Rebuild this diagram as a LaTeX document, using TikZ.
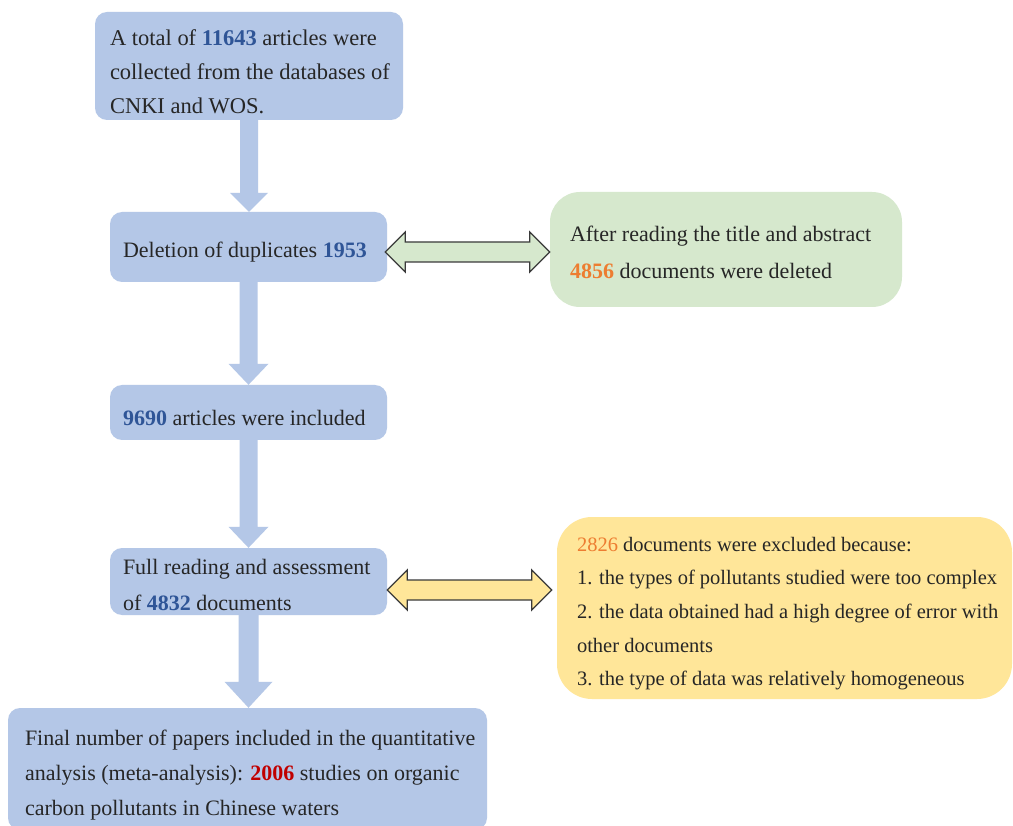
\documentclass[tikz,border=0pt]{standalone}
\usepackage{fontspec}
\setmainfont{Liberation Serif}
\usetikzlibrary{calc}
\definecolor{boxblue}{HTML}{B4C7E7}
\definecolor{boxgreen}{HTML}{D6E8CD}
\definecolor{boxyellow}{HTML}{FFE699}
\definecolor{numblue}{HTML}{2F5597}
\definecolor{numorange}{HTML}{ED7D31}
\definecolor{numred}{HTML}{C00000}
\definecolor{txt}{HTML}{262626}
\definecolor{arrowline}{HTML}{3A3A3A}
\newcommand{\nblue}[1]{\textbf{\textcolor{numblue}{#1}}}
\newcommand{\vblockarrow}[5]{%
  \fill[boxblue] let \p1=(#1.south), \p2=(#2.north) in
    (\x1-#3,\y1) -- (\x1-#3,\y2+#5) -- (\x1-#4,\y2+#5) -- (\x1,\y2)
    -- (\x1+#4,\y2+#5) -- (\x1+#3,\y2+#5) -- (\x1+#3,\y1) -- cycle;}
\newcommand{\hdblarrow}[6]{%
  \filldraw[fill=#3, draw=arrowline, line width=1.3pt, line join=miter]
    let \p1=($(#1.east)+(#4,#6)$), \p2=($(#2.west)+(#5,#6)$) in
    (\x1,\y1) -- (\x1+20pt,\y1+20pt) -- (\x1+20pt,\y1+10pt) -- (\x2-20pt,\y1+10pt)
    -- (\x2-20pt,\y1+20pt) -- (\x2,\y1) -- (\x2-20pt,\y1-20pt) -- (\x2-20pt,\y1-10pt)
    -- (\x1+20pt,\y1-10pt) -- (\x1+20pt,\y1-20pt) -- cycle;}
\begin{document}
\begin{tikzpicture}[x=1pt,y=-1pt,
  bluebox/.style={draw=none, fill=boxblue, rounded corners=12pt, inner sep=0pt},
  greenbox/.style={draw=none, fill=boxgreen, rounded corners=30pt, inner sep=0pt},
  yellowbox/.style={draw=none, fill=boxyellow, rounded corners=35pt, inner sep=0pt},
  txtnode/.style={anchor=west, align=left, inner sep=0pt, text=txt}]
\useasboundingbox (0,0) rectangle (1013,826);
\clip (0,0) rectangle (1013,826);
\fill[white] (0,0) rectangle (1013,826);

% boxes
\node[bluebox, minimum width=308pt, minimum height=108pt] (b1) at (249,66) {};
\node[bluebox, minimum width=277pt, minimum height=70pt] (b2) at (248.5,247) {};
\node[bluebox, minimum width=277pt, minimum height=55pt] (b3) at (248.5,412.5) {};
\node[bluebox, minimum width=277pt, minimum height=67pt] (b4) at (248.5,581.5) {};
\node[bluebox, minimum width=479pt, minimum height=122pt] (b5) at (247.5,769) {};
\node[greenbox, minimum width=352pt, minimum height=115pt] (g) at (726,249.5) {};
\node[yellowbox, minimum width=455pt, minimum height=182pt] (y) at (784.5,608) {};

% texts
\node[txtnode, font=\fontsize{22.5}{34}\selectfont] (t1) at ($(b1.west)+(15,5.5)$)
  {A total of \nblue{11643} articles were\\collected from the databases of\\CNKI and WOS.};
\node[txtnode, font=\fontsize{22}{34}\selectfont] (t2) at ($(b2.west)+(13,5)$)
  {Deletion of duplicates \nblue{1953}};
\node[txtnode, font=\fontsize{22}{34}\selectfont] (t3) at ($(b3.west)+(13,5.5)$)
  {\nblue{9690} articles were included};
\node[txtnode, font=\fontsize{22}{36}\selectfont] (t4) at ($(b4.west)+(13,3.5)$)
  {Full reading and assessment\\of \nblue{4832} documents};
\node[txtnode, font=\fontsize{22}{35}\selectfont] (t5) at ($(b5.west)+(17,6.5)$)
  {Final number of papers included in the quantitative\\analysis (meta-analysis): \textbf{\textcolor{numred}{2006}} studies on organic\\carbon pollutants in Chinese waters};
\node[txtnode, font=\fontsize{22}{37}\selectfont] (tg) at ($(g.west)+(20,3)$)
  {After reading the title and abstract\\\textbf{\textcolor{numorange}{4856}} documents were deleted};
\node[txtnode, font=\fontsize{20.5}{33.7}\selectfont] (ty) at ($(y.west)+(20,5.5)$)
  {\textcolor{numorange}{2826} documents were excluded because:\\1. the types of pollutants studied were too complex\\2. the data obtained had a high degree of error with\\other documents\\3. the type of data was relatively homogeneous};

% vertical block arrows
\vblockarrow{b1}{b2}{9pt}{19pt}{19pt}
\vblockarrow{b2}{b3}{9pt}{20pt}{21pt}
\vblockarrow{b3}{b4}{9pt}{20pt}{21pt}
\vblockarrow{b4}{b5}{10pt}{24pt}{26pt}

% horizontal double arrows
\hdblarrow{b2}{g}{boxgreen}{-2pt}{0pt}{-5pt}
\hdblarrow{b4}{y}{boxyellow}{0pt}{-5pt}{-8.5pt}
\end{tikzpicture}
\end{document}
